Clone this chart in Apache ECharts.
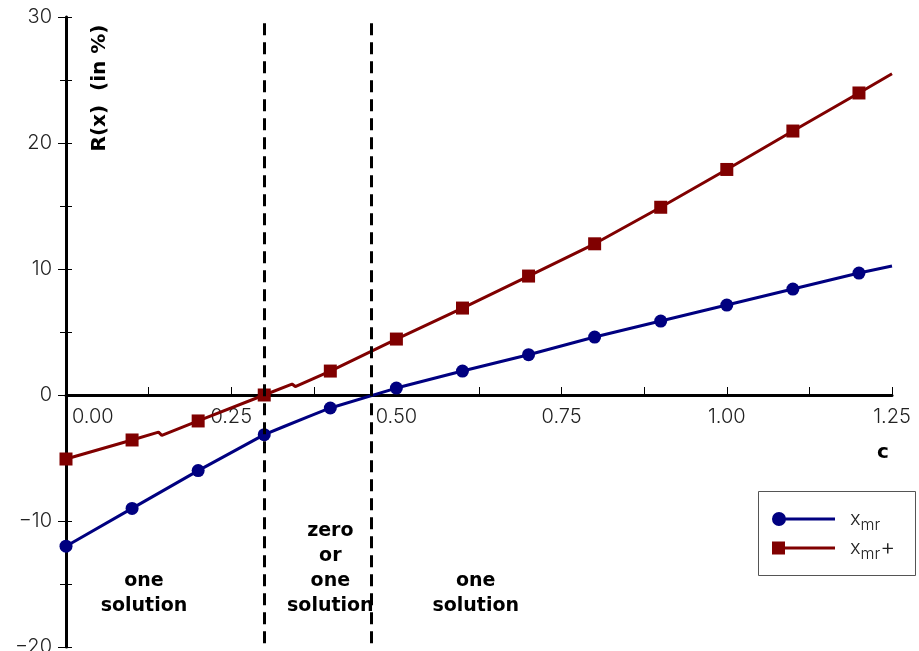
<!DOCTYPE html>
<html><head><meta charset="utf-8">
<script src="https://cdn.jsdelivr.net/npm/echarts@6/dist/echarts.min.js"></script>
<style>html,body{margin:0;padding:0;background:#fff}#c{width:919px;height:651px}</style>
</head><body><div id="c"></div>
<script>
// ---- data ----
const markerC = [0, 0.1, 0.2, 0.3, 0.4, 0.5, 0.6, 0.7, 0.8, 0.9, 1.0, 1.1, 1.2];
const xmrC = [0, 0.1, 0.2, 0.3, 0.33, 0.365, 0.4, 0.5, 0.6, 0.7, 0.8, 0.9, 1.0, 1.1, 1.2, 1.25];
const xmrR = [-12, -9, -6, -3.15, -2.5, -1.75, -1.03, 0.55, 1.9, 3.2, 4.6, 5.87, 7.14, 8.41, 9.68, 10.24];
const xmrPlusC = [0, 0.1, 0.14, 0.145, 0.2, 0.3, 0.342, 0.347, 0.4, 0.5, 0.6, 0.7, 0.8, 0.9, 1.0, 1.1, 1.2, 1.25];
const xmrPlusR = [-5.08, -3.57, -2.95, -3.2, -2.06, 0, 0.87, 0.67, 1.9, 4.44, 6.9, 9.44, 12.0, 14.9, 17.9, 20.95, 23.97, 25.5];
const boundaries = [0.3, 0.462];
const seriesNames = ['xmr', 'xmr+'];
const regionTexts = ['one\nsolution', 'zero\nor\none\nsolution', 'one\nsolution'];
const regionC = [0.118, 0.40, 0.62];
const regionR = [-15.75, -13.8, -15.75];
const yTitle = 'R(x)  (in %)';
const xTitle = 'c';
const Y_MIN = -20, Y_MAX = 30;

const BLUE = '#000080', RED = '#800000';
const tickFont = {fontFamily: 'Inter', fontWeight: 300, fontSize: 20, color: '#222'};

function isMarker(c) { return markerC.some(m => Math.abs(m - c) < 1e-9); }
function build(cs, rs) {
  return cs.map((c, i) => isMarker(c) ? {value: [c, rs[i]]} : {value: [c, rs[i]], symbol: 'none'});
}

const chart = echarts.init(document.getElementById('c'), null, {renderer: 'canvas'});
const circleIcon = 'path://M0,7A7,7,0,1,1,14,7A7,7,0,1,1,0,7ZM7,5.5L63,5.5L63,8.5L7,8.5Z';
const squareIcon = 'path://M0,0.5L13,0.5L13,13.5L0,13.5ZM7,5.5L63,5.5L63,8.5L7,8.5Z';
const G = {left: 66, right: 27, top: 17, bottom: 4};
const GRID_W = 919 - G.left - G.right;
const GRID_H = 651 - G.top - G.bottom;
const ZERO_OFFSET = -GRID_H * (0 - Y_MIN) / (Y_MAX - Y_MIN);

chart.setOption({
  animation: false,
  grid: Object.assign({containLabel: false, outerBoundsMode: 'none'}, G),
  xAxis: {
    type: 'value', min: 0, max: 1.25, interval: 0.25, position: 'bottom', offset: ZERO_OFFSET,
    axisLine: {show: true, onZero: false, lineStyle: {color: '#000', width: 3}},
    axisTick: {show: true, inside: true, length: 8, lineStyle: {color: '#000', width: 1}},
    minorTick: {show: true, splitNumber: 2, length: 8, lineStyle: {color: '#000', width: 1}},
    splitLine: {show: false},
    axisLabel: Object.assign({
      margin: 12, alignMinLabel: 'left',
      formatter: v => v === 0 ? '{m|' + v.toFixed(2) + '}' : v.toFixed(2),
      rich: {m: Object.assign({padding: [0, 0, 0, 6]}, tickFont)}
    }, tickFont)
  },
  yAxis: [{
    type: 'value', min: Y_MIN, max: Y_MAX, interval: 10, position: 'left',
    axisLine: {show: true, onZero: false, lineStyle: {color: '#000', width: 3}},
    axisTick: {show: true, inside: false, length: 8, lineStyle: {color: '#000', width: 1}},
    minorTick: {show: true, splitNumber: 2, length: 6, lineStyle: {color: '#000', width: 1}},
    splitLine: {show: false},
    axisLabel: Object.assign({margin: 14, formatter: v => v < 0 ? '\u2212' + Math.abs(v) : String(v)}, tickFont)
  }, {
    type: 'value', min: Y_MIN, max: Y_MAX, interval: 10, position: 'right', offset: -GRID_W,
    axisLine: {show: false, onZero: false},
    axisTick: {show: true, inside: false, length: 6, lineStyle: {color: '#000', width: 1}},
    minorTick: {show: true, splitNumber: 2, length: 6, lineStyle: {color: '#000', width: 1}},
    splitLine: {show: false},
    axisLabel: {show: false}
  }],
  legend: {
    orient: 'vertical', left: 772, top: 505, padding: 0, itemGap: 1,
    itemWidth: 63, itemHeight: 14,
    data: [{name: seriesNames[0], icon: circleIcon}, {name: seriesNames[1], icon: squareIcon}],
    formatter: n => n === seriesNames[0] ? '{x|x}{s|mr}' : '{x|x}{s|mr}{p|+}',
    textStyle: {
      rich: {
        x: {fontFamily: 'Inter', fontWeight: 300, fontSize: 20, lineHeight: 20, color: '#222', padding: [0, 0, 0, 10]},
        s: {fontFamily: 'Inter', fontWeight: 300, fontSize: 16, lineHeight: 16, color: '#222', padding: [12, 0, 0, 0]},
        p: {fontFamily: 'Inter', fontWeight: 300, fontSize: 23, lineHeight: 23, color: '#222'}
      }
    }
  },
  series: [{
    name: seriesNames[0], type: 'line', data: build(xmrC, xmrR),
    symbol: 'circle', symbolSize: 13, color: BLUE,
    lineStyle: {color: BLUE, width: 3}, itemStyle: {color: BLUE},
    z: 3,
    markLine: {
      silent: true, symbol: ['none', 'none'], label: {show: false},
      lineStyle: {color: '#000', width: 3, type: [12, 7]},
      data: boundaries.map(b => [{coord: [b, 29.5]}, {coord: [b, Y_MIN]}])
    }
  }, {
    name: seriesNames[1], type: 'line', data: build(xmrPlusC, xmrPlusR),
    symbol: 'rect', symbolSize: 13, color: RED,
    lineStyle: {color: RED, width: 3}, itemStyle: {color: RED},
    z: 3
  }]
});

const annFont = 'bold 19px "DejaVu Sans"';
const graphics = regionTexts.map((t, i) => {
  const p = chart.convertToPixel({gridIndex: 0}, [regionC[i], regionR[i]]);
  return {type: 'text', x: p[0], y: p[1], style: {text: t, font: annFont, fill: '#000', align: 'center', verticalAlign: 'middle', lineHeight: 25}};
});
graphics.push({type: 'text', x: 100, y: 88, rotation: Math.PI / 2,
  style: {text: yTitle, font: 'bold 20px "DejaVu Sans"', fill: '#000', align: 'center', verticalAlign: 'middle'}});
graphics.push({type: 'text', x: 883, y: 453,
  style: {text: xTitle, font: 'bold 20px "DejaVu Sans"', fill: '#000', align: 'center', verticalAlign: 'middle'}});
graphics.push({type: 'rect', shape: {x: 758.5, y: 491.5, width: 157, height: 84}, z: -1,
  style: {fill: '#fff', stroke: '#555', lineWidth: 1}});
chart.setOption({graphic: graphics});
</script></body></html>
